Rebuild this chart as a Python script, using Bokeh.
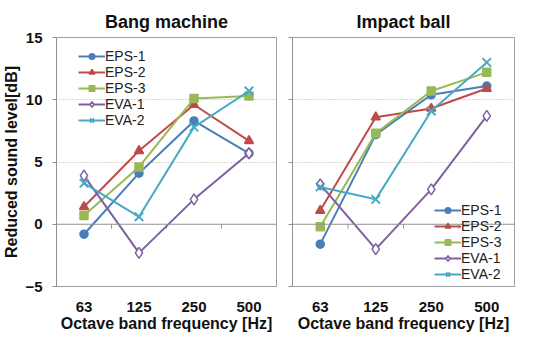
from bokeh.plotting import figure
from bokeh.layouts import row
from bokeh.models import Range1d, FixedTicker, Legend, LegendItem, Span
from bokeh.embed import file_html
from bokeh.resources import INLINE

freqs = ["63", "125", "250", "500"]
series = ["EPS-1", "EPS-2", "EPS-3", "EVA-1", "EVA-2"]

bang_eps1 = [-0.8, 4.1, 8.3, 5.7]
bang_eps2 = [1.4, 5.9, 9.6, 6.7]
bang_eps3 = [0.7, 4.6, 10.1, 10.3]
bang_eva1 = [3.9, -2.3, 2.0, 5.7]
bang_eva2 = [3.3, 0.6, 7.8, 10.7]

ball_eps1 = [-1.6, 7.2, 10.4, 11.1]
ball_eps2 = [1.1, 8.6, 9.3, 10.9]
ball_eps3 = [-0.2, 7.3, 10.7, 12.2]
ball_eva1 = [3.2, -2.0, 2.8, 8.7]
ball_eva2 = [3.0, 2.0, 9.1, 13.0]

y_ticks = [-5, 0, 5, 10, 15]

colors = ["#4a7ebb", "#be4b48", "#98b954", "#7d60a0", "#46aac5"]
markers = ["circle", "triangle", "square", "diamond", "x"]
FONT = "Liberation Sans"

# category centre positions on the numeric x scale (category i sits at i + 0.5)
xpos = [i + 0.5 for i in range(len(freqs))]
bounds = list(range(1, len(freqs)))


def make(title, data, width, left, show_ylabels, legend_loc):
    p = figure(width=width, height=334, x_range=Range1d(0, len(freqs)),
               y_range=Range1d(y_ticks[0], y_ticks[-1]), output_backend="svg",
               toolbar_location=None,
               min_border_left=left, min_border_right=4, min_border_top=37, min_border_bottom=46)
    p.title.text = title
    p.title.align = "center"
    p.title.text_font = FONT
    p.title.text_font_size = "18px"
    p.title.text_font_style = "bold"
    p.title.text_color = "#111111"
    p.title.standoff = 12
    p.outline_line_color = "#a0a0a0"
    p.xgrid.visible = False
    p.ygrid.ticker = FixedTicker(ticks=[5, 10])
    p.ygrid.grid_line_color = "#b8b08a"
    p.ygrid.grid_line_dash = "1 2"

    xa = p.xaxis[0]
    xa.ticker = FixedTicker(ticks=xpos)
    xa.major_label_overrides = {x: f for x, f in zip(xpos, freqs)}
    xa.axis_line_color = None
    xa.major_tick_line_color = None
    xa.minor_tick_line_color = None
    xa.axis_label = "Octave band frequency [Hz]"
    xa.axis_label_text_font = FONT
    xa.axis_label_text_font_size = "16px"
    xa.axis_label_text_font_style = "bold"
    xa.axis_label_text_color = "#111111"
    xa.axis_label_standoff = 0
    xa.major_label_text_font = FONT
    xa.major_label_text_font_size = "15px"
    xa.major_label_text_font_style = "bold"
    xa.major_label_text_color = "#111111"
    xa.major_label_standoff = 9

    ya = p.yaxis[0]
    ya.ticker = FixedTicker(ticks=y_ticks)
    ya.axis_line_color = "#909090"
    ya.major_tick_line_color = "#909090"
    ya.major_tick_out = 4
    ya.major_tick_in = 0
    ya.minor_tick_line_color = None
    ya.major_label_text_font = FONT
    ya.major_label_text_font_size = "15px"
    ya.major_label_text_font_style = "bold"
    ya.major_label_text_color = "#111111"
    if show_ylabels:
        ya.major_label_standoff = 10
        ya.axis_label = "Reduced sound level[dB]"
        ya.axis_label_text_font = FONT
        ya.axis_label_text_font_size = "16px"
        ya.axis_label_text_font_style = "bold"
        ya.axis_label_text_color = "#111111"
        ya.axis_label_standoff = 2
    else:
        ya.major_label_overrides = {t: "" for t in y_ticks}
        ya.major_label_standoff = 0

    # horizontal axis line at zero with small ticks between the categories
    p.add_layout(Span(location=0, dimension="width", line_color="#909090", line_width=1))
    p.segment(x0=bounds, y0=[0] * len(bounds), x1=bounds, y1=[-0.35] * len(bounds),
              line_color="#909090", line_width=1)

    items = []
    for name, ys, c, m in zip(series, data, colors, markers):
        r1 = p.line(xpos, ys, line_color=c, line_width=2)
        fill = "white" if m == "diamond" else c
        size = {"circle": 8, "triangle": 9, "square": 8, "diamond": 11, "x": 12}[m]
        r2 = p.scatter(xpos, ys, marker=m, size=size, line_color=c, fill_color=fill,
                       line_width=1.5 if m != "x" else 2)
        items.append(LegendItem(label=name, renderers=[r1, r2]))
    lg = Legend(items=items, location=legend_loc, background_fill_alpha=0,
                border_line_color=None, label_text_font=FONT, label_text_color="#222222",
                label_text_font_size="14px", glyph_width=27, glyph_height=14,
                label_height=14, spacing=0, label_standoff=0, padding=0, margin=0)
    p.add_layout(lg)
    return p


p1 = make("Bang machine", [bang_eps1, bang_eps2, bang_eps3, bang_eva1, bang_eva2], 280, 52, True, (22, 158))
p2 = make("Impact ball", [ball_eps1, ball_eps2, ball_eps3, ball_eva1, ball_eva2], 238, 12, False, (142, 4))
p = row(p1, p2)
open("out.html", "w").write(file_html(p, INLINE))
